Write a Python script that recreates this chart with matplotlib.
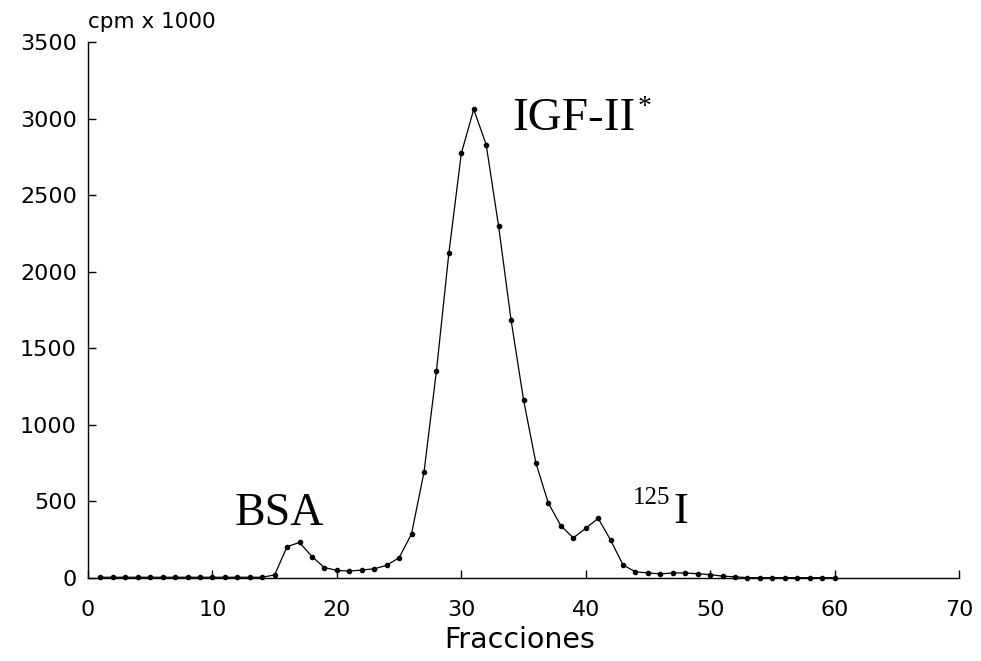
import matplotlib
matplotlib.use("Agg")
import matplotlib.pyplot as plt
import numpy as np

# Data
fractions = list(range(1, 61))
cpm = [5, 5, 5, 5, 5, 5, 5, 5, 5, 5, 5, 5, 5, 5,
       20, 205, 232, 140, 68, 50, 45, 52, 60, 83, 132, 288, 690, 1350, 2120, 2772,
       3060, 2830, 2297, 1685, 1165, 750, 488, 342, 262, 324, 390, 248, 85, 40,
       33, 27, 33, 33, 28, 22, 12, 8, 2, 2, 2, 2, 2, 2, 2, 2]
x_ticks = [0, 10, 20, 30, 40, 50, 60, 70]
y_ticks = [0, 500, 1000, 1500, 2000, 2500, 3000, 3500]

W, H = 981, 661
fig = plt.figure(figsize=(W / 100, H / 100), dpi=100)

def fx(px):
    return px / W

def fy(py):
    return 1 - py / H

ax = fig.add_axes([fx(88), fy(578), fx(959) - fx(88), fy(42) - fy(578)])
ax.plot(fractions, cpm, color="black", linewidth=0.9, marker="o",
        markersize=3.0, clip_on=False)

ax.set_xlim(0, 70)
ax.set_ylim(0, 3500)
ax.set_xticks(x_ticks)
ax.set_yticks(y_ticks)
for s in ["top", "right"]:
    ax.spines[s].set_visible(False)
for s in ["left", "bottom"]:
    ax.spines[s].set_linewidth(1.0)
ax.tick_params(axis="both", direction="in", length=6, width=1.0,
               labelsize=16)
ax.tick_params(axis="y", pad=8)
ax.tick_params(axis="x", pad=16)
for lab in ax.get_xticklabels() + ax.get_yticklabels():
    lab.set_family("DejaVu Sans")

fig.text(fx(88), fy(28), "cpm x 1000", fontsize=15.5, family="DejaVu Sans",
         ha="left", va="baseline")
fig.text(fx(520), fy(648), "Fracciones", fontsize=20.5, family="DejaVu Sans",
         ha="center", va="baseline")

serif = "Liberation Serif"
fig.text(fx(235), fy(525), "BSA", fontsize=33, family=serif,
         ha="left", va="baseline")
fig.text(fx(512), fy(130), "IGF-II", fontsize=34, family=serif,
         ha="left", va="baseline")
fig.text(fx(638), fy(95), "*", fontsize=20, family=serif,
         ha="left", va="top")
fig.text(fx(633), fy(487), "125", fontsize=18, family=serif,
         ha="left", va="top")
fig.text(fx(673), fy(523), "I", fontsize=32, family=serif,
         ha="left", va="baseline")

fig.savefig("out.png", dpi=100)
